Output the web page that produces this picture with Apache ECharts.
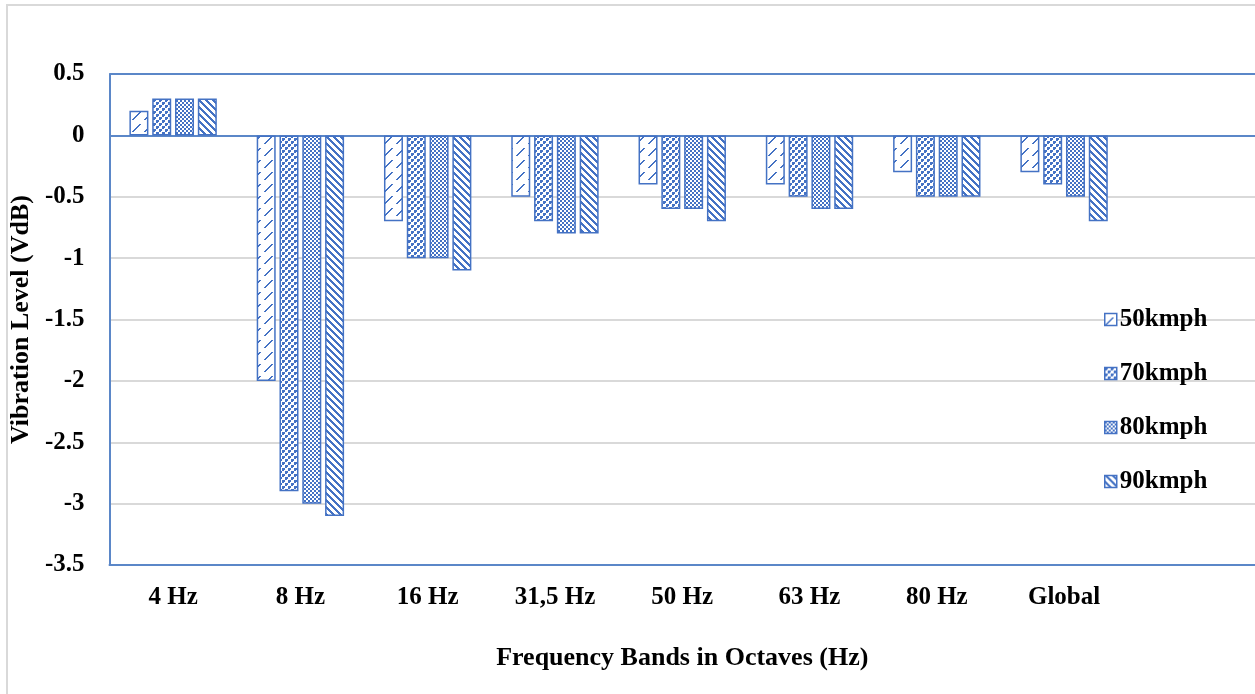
<!DOCTYPE html>
<html>
<head>
<meta charset="utf-8">
<script src="https://cdn.jsdelivr.net/npm/echarts@6/dist/echarts.min.js"></script>
<style>
  html, body { margin: 0; padding: 0; background: #fff; }
  #chart { width: 1255px; height: 694px; }
</style>
</head>
<body>
<div id="chart"></div>
<script>
// Octave bands (the last slot is left empty to make room for the legend)
const categories = ['4 Hz', '8 Hz', '16 Hz', '31,5 Hz', '50 Hz', '63 Hz', '80 Hz', 'Global', ''];
const speeds = ['50kmph', '70kmph', '80kmph', '90kmph'];
const v50 = [0.2, -2.0, -0.7, -0.5, -0.4, -0.4, -0.3, -0.3];
const v70 = [0.3, -2.9, -1.0, -0.7, -0.6, -0.5, -0.5, -0.4];
const v80 = [0.3, -3.0, -1.0, -0.8, -0.6, -0.6, -0.5, -0.5];
const v90 = [0.3, -3.1, -1.1, -0.8, -0.7, -0.6, -0.5, -0.7];
const yTicks = [-3.5, -3, -2.5, -2, -1.5, -1, -0.5, 0, 0.5];

const BLUE = '#4472C4';
const LINE_BLUE = '#5B87C8';
const GRID_GRAY = '#D9D9D9';
const FONT = '"Liberation Serif", "Times New Roman", serif';

// Small hatch tiles used as bar fills
function tile(size, painter) {
  const c = document.createElement('canvas');
  c.width = size; c.height = size;
  const ctx = c.getContext('2d');
  ctx.fillStyle = '#fff';
  ctx.fillRect(0, 0, size, size);
  ctx.fillStyle = BLUE;
  painter(ctx, size);
  return { image: c, repeat: 'repeat' };
}
// dashed upward diagonal
const patUp = tile(12, (ctx, s) => {
  for (let i = 0; i < 8; i++) ctx.fillRect(i, s - 1 - i, 2, 1);
});
// coarse dotted checker
const patDots = tile(6, (ctx) => {
  ctx.fillRect(0, 0, 3, 3);
  ctx.fillRect(3, 3, 3, 3);
  ctx.clearRect(2, 2, 1, 1); ctx.clearRect(5, 5, 1, 1);
  ctx.fillStyle = '#fff';
  ctx.fillRect(2, 2, 1, 1); ctx.fillRect(5, 5, 1, 1);
  ctx.fillStyle = BLUE;
});
// fine checkerboard
const patCheck = tile(4, (ctx) => {
  ctx.fillRect(0, 0, 2, 2);
  ctx.fillRect(2, 2, 2, 2);
});
// wide downward diagonal stripes
const patDown = tile(7, (ctx, s) => {
  for (let y = 0; y < s; y++)
    for (let x = 0; x < s; x++)
      if (((x - y) % s + s) % s < 3) ctx.fillRect(x, y, 1, 1);
});

const fills = [patUp, patDots, patCheck, patDown];
const values = [v50, v70, v80, v90];

const chart = echarts.init(document.getElementById('chart'), null, { renderer: 'canvas' });

const splitColors = yTicks.map(t => (t === 0 || t === 0.5) ? LINE_BLUE : GRID_GRAY);

chart.setOption({
  animation: false,
  backgroundColor: '#fff',
  graphic: [{
    type: 'rect',
    shape: { x: 7, y: 5, width: 1400, height: 900 },
    style: { fill: 'none', stroke: GRID_GRAY, lineWidth: 2 },
    silent: true, z: -1
  }],
  grid: { left: 108, right: 0, top: 74, bottom: 129, containLabel: false },
  legend: {
    orient: 'vertical',
    left: 1099,
    top: 302,
    itemWidth: 12,
    itemHeight: 12,
    itemGap: 29,
    icon: 'rect',
    data: speeds,
    textStyle: { fontFamily: FONT, fontWeight: 'bold', fontSize: 25, color: '#000', lineHeight: 25, padding: [0, 0, 0, -2] },
    itemStyle: { borderColor: BLUE, borderWidth: 1.5 }
  },
  xAxis: {
    type: 'category',
    data: categories,
    name: 'Frequency Bands in Octaves (Hz)',
    nameLocation: 'middle',
    nameGap: 80,
    nameTextStyle: { fontFamily: FONT, fontWeight: 'bold', fontSize: 26, color: '#000' },
    axisLine: { onZero: false, lineStyle: { color: LINE_BLUE, width: 2 } },
    axisTick: { show: false },
    axisLabel: { fontFamily: FONT, fontWeight: 'bold', fontSize: 25, color: '#000', margin: 20, interval: 0 },
    splitLine: { show: false }
  },
  yAxis: {
    type: 'value',
    min: -3.5,
    max: 0.5,
    interval: 0.5,
    name: 'Vibration Level (VdB)',
    nameLocation: 'middle',
    nameGap: 68,
    nameTextStyle: { fontFamily: FONT, fontWeight: 'bold', fontSize: 26, color: '#000' },
    axisLine: { show: true, lineStyle: { color: LINE_BLUE, width: 2 } },
    axisTick: { show: false },
    axisLabel: { fontFamily: FONT, fontWeight: 'bold', fontSize: 25, color: '#000', margin: 25 },
    splitLine: { show: true, lineStyle: { color: splitColors, width: 2 } }
  },
  series: speeds.map((name, i) => ({
    name: name,
    type: 'bar',
    data: values[i],
    barWidth: 19,
    barGap: '20%',
    itemStyle: { color: fills[i], borderColor: BLUE, borderWidth: 1.5 }
  }))
});
</script>
</body>
</html>
